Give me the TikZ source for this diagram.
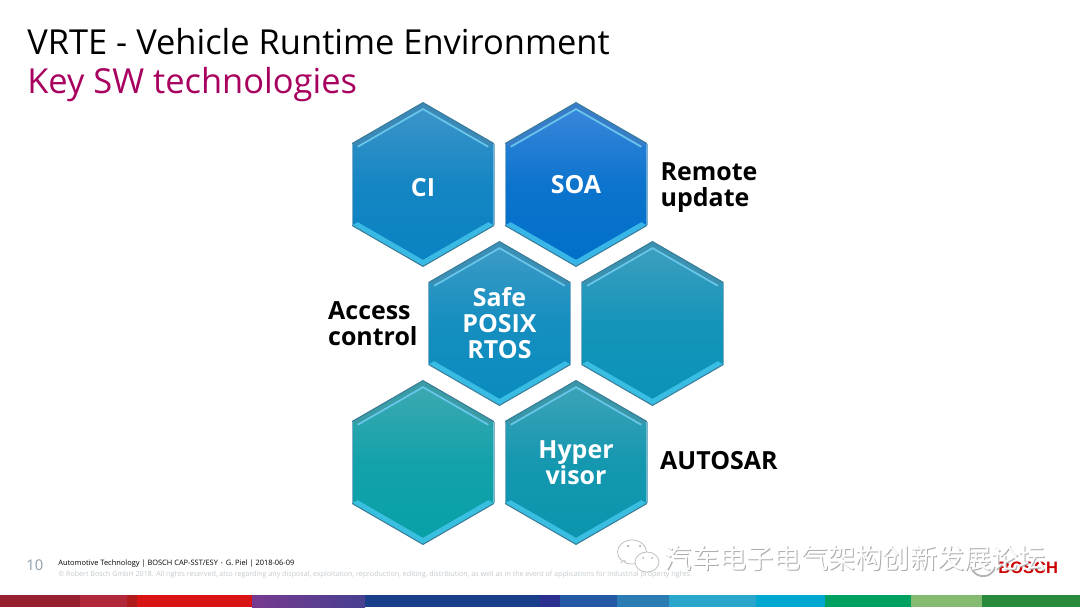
\documentclass[tikz,border=0pt]{standalone}
\usepackage{fontspec}
\setmainfont{Open Sans}
\newfontfamily\cjkfont{Noto Sans CJK SC}
\newfontfamily\logofont{Liberation Sans}
\usetikzlibrary{shapes.geometric}
\definecolor{titlemagenta}{HTML}{A8005F}
\definecolor{footgrey}{HTML}{C2C9CE}
\definecolor{pagegrey}{HTML}{8A9CAC}
\definecolor{bevelcyan}{HTML}{45C8EE}
\definecolor{bevellight}{HTML}{68C6EA}
\definecolor{beveldark}{HTML}{3A7C98}
\definecolor{bevelside}{HTML}{7FB0C8}
\tikzset{
  hexcell/.style={regular polygon, regular polygon sides=6, shape border rotate=30,
    minimum size=3.26cm, inner sep=0pt},
  hexinner/.style={hexcell, minimum size=3.0cm},
  hexlabel/.style={text=white, font=\bfseries\fontsize{14.2}{14.8}\selectfont, align=center},
  sidelabel/.style={text=black, font=\bfseries\fontsize{14.2}{14.8}\selectfont, align=left, anchor=west},
  footline/.style={anchor=base west, inner sep=0pt},
  bubble/.style={draw=gray!55, fill=white, line width=0.4pt},
  bubbleeye/.style={fill=gray!60}
}
\begin{document}
\begin{tikzpicture}

  \useasboundingbox (0, 0) rectangle (21.6, 12.14);

  % --- title ---
  \node[footline, font=\fontsize{19.6}{24}\selectfont] (title) at (0.54, 11.05) {VRTE - Vehicle Runtime Environment};
  \node[footline, font=\fontsize{19.6}{24}\selectfont, text=titlemagenta] (subtitle) at (0.54, 10.28) {Key SW technologies};

  % --- hexagons ---
  \foreach \cname/\cx/\cy/\cdy/\ctop/\cbot/\clabel in {
    ci/8.46/8.45/-0.07/3F95C9/0A82C2/CI,
    soa/11.52/8.45/0/3D88DC/006FC9/SOA,
    rtos/9.99/5.67/0/3F9BC6/0A8BBE/{Safe\\POSIX\\RTOS},
    free/13.05/5.67/0/3F9FBF/0A92B8/{},
    teal/8.46/2.89/0/3FA9B2/08A0A8/{},
    hyper/11.52/2.89/0/3FA3B8/0A95AE/{Hyper\\visor}}
  {
    \definecolor{celltop}{HTML}{\ctop}
    \definecolor{cellbot}{HTML}{\cbot}
    \node[hexcell, top color=celltop, bottom color=cellbot, middle color=cellbot!80!celltop] (\cname) at (\cx, \cy) {};
    \node[hexinner] (\cname in) at (\cx, \cy) {};
    % upper bevel
    \fill[celltop!92!black] (\cname.corner 2) -- (\cname.corner 1) -- (\cname.corner 6)
      -- (\cname in.corner 6) -- (\cname in.corner 1) -- (\cname in.corner 2) -- cycle;
    % lower bevel
    \fill[bevelcyan!80!cellbot] (\cname.corner 3) -- (\cname.corner 4) -- (\cname.corner 5)
      -- (\cname in.corner 5) -- (\cname in.corner 4) -- (\cname in.corner 3) -- cycle;
    \draw[bevellight, line width=1pt] (\cname in.corner 2) -- (\cname in.corner 1) -- (\cname in.corner 6);
    \draw[bevelside, line width=0.5pt] (\cname.corner 2) -- (\cname.corner 3)
      (\cname.corner 5) -- (\cname.corner 6);
    \draw[beveldark, line width=0.6pt] (\cname.corner 6) -- (\cname.corner 1) -- (\cname.corner 2)
      (\cname.corner 3) -- (\cname.corner 4) -- (\cname.corner 5);
    \node[hexlabel] (\cname text) at (\cx, \cy+\cdy) {\clabel};
  }

  % --- labels beside the hexagons ---
  \node[sidelabel] (remote) at (13.09, 8.38) {Remote\\update};
  \node[sidelabel] (access) at (6.44, 5.67) {Access\\control};
  \node[sidelabel] (autosar) at (13.08, 2.93) {AUTOSAR};

  % --- footer ---
  \node[text=pagegrey, anchor=base west, inner sep=0pt, font=\fontsize{8.4}{10}\selectfont] (page) at (0.52, 0.74) {10};
  \node[footline, font=\fontsize{4.23}{5}\selectfont] (foot) at (1.16, 0.84) {Automotive Technology | BOSCH CAP-SST/ESY $\cdot$ G. Piel | 2018-06-09};
  \node[footline, text=footgrey, font=\fontsize{4.05}{5}\selectfont] (legal) at (1.16, 0.61) {© Robert Bosch GmbH 2018. All rights reserved, also regarding any disposal, exploitation, reproduction, editing, distribution, as well as in the event of applications for industrial property rights.};

  % --- logo ---
  \draw[gray!60, line width=1pt] (19.42, 0.8) arc (195:345:0.25);
  \node[footline, text=red!80!black, font=\logofont\bfseries\fontsize{9.4}{10}\selectfont] (logo) at (19.96, 0.68) {BOSCH};

  % --- watermark ---
  \draw[bubble] (12.64, 1.10) ellipse (0.29 and 0.24);
  \draw[bubble] (12.41, 0.88) -- (12.48, 0.93) -- (12.52, 0.9);
  \fill[bubbleeye] (12.56, 1.22) circle (0.025);
  \fill[bubbleeye] (12.8, 1.22) circle (0.025);
  \draw[bubble] (12.94, 0.90) ellipse (0.24 and 0.2);
  \fill[bubbleeye] (12.86, 0.98) circle (0.02);
  \fill[bubbleeye] (13.04, 0.98) circle (0.02);
  \node[footline, text=gray!65, font=\cjkfont\fontsize{15.5}{16}\selectfont] (markback) at (13.31, 0.75) {汽车电子电气架构创新发展论坛};
  \node[footline, text=white, font=\cjkfont\fontsize{15.5}{16}\selectfont] (mark) at (13.29, 0.77) {汽车电子电气架构创新发展论坛};

  % --- colour band ---
  \foreach \sx/\swd/\scol in {0/1.6/96202F, 1.6/0.94/B0283A, 2.54/0.2/B01C1C, 2.74/2.3/D81414,
    7.3/3.5/1A3F8A, 10.8/0.4/2A3090, 11.2/1.14/2458A5, 12.34/1.04/2C7CB4, 13.38/1.74/2AA5CC,
    15.12/1.38/00A8D0, 16.5/1.72/00A060, 18.22/1.42/85BB70, 19.64/1.96/2A8A3C}
  {
    \definecolor{bandcol}{HTML}{\scol}
    \fill[bandcol] (\sx, 0) rectangle ++(\swd, 0.24);
  }
  \fill[left color={rgb,255:red,118;green,58;blue,144}, right color={rgb,255:red,72;green,64;blue,144}] (5.04, 0) rectangle (7.3, 0.24);

  \end{tikzpicture}
\end{document}
